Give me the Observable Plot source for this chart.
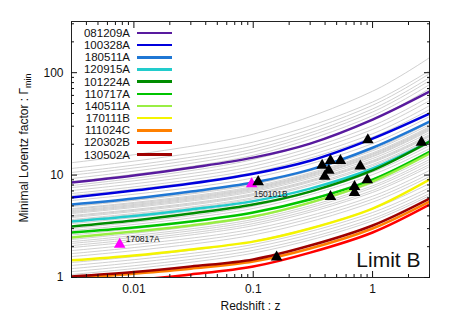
<!DOCTYPE html>
<html><head><meta charset="utf-8">
<script src="https://cdn.jsdelivr.net/npm/d3@7"></script>
<script src="https://cdn.jsdelivr.net/npm/@observablehq/plot@0.6"></script>
<style>
body{margin:0;background:#fff;}
#wrap{position:relative;width:463px;height:327px;font-family:"Liberation Sans",Arial,sans-serif;color:#111;}
#legend{position:absolute;left:70px;top:27px;font-size:11.5px;line-height:12.17px;}
.row{display:flex;align-items:center;height:12.17px;}
.row span{width:60px;text-align:right;}
.row i{display:block;width:35px;height:2.5px;margin-left:7px;}
#ytitle{position:absolute;left:25px;top:148px;transform:translate(-50%,-50%) rotate(-90deg);white-space:nowrap;font-size:12px;}
#ytitle sub{font-size:9px;}
</style></head>
<body><div id="wrap"><div id="chart"></div><div id="legend"></div>
<div id="ytitle">Minimal Lorentz factor : Γ<sub>min</sub></div></div>
<script>
// ---- data ----
const grbNames = ["081209A","100328A","180511A","120915A","101224A","110717A","140511A","170111B","111024C","120302B","130502A"];
const grbColors = ["#581a9e","#0000dd","#1f77d4","#22cccc","#008c00","#00c400","#99ee44","#f4f400","#ff8000","#ff0000","#9e0000"];
const zColored = [0.003, 0.01, 0.03, 0.1, 0.3, 1, 3];
const gammaColored = [
  [8.45, 9.89, 11.8, 14.8, 20.3, 34.8, 65.3],
  [6.03, 7.06, 8.26, 10.3, 13.8, 22.7, 39.8],
  [5.15, 5.9, 6.9, 8.45, 11.3, 18.5, 33.3],
  [3.52, 3.98, 4.61, 5.57, 7.38, 11.6, 21.2],
  [3.15, 3.6, 4.21, 5.15, 6.9, 11.1, 21.2],
  [2.75, 3.07, 3.52, 4.31, 5.77, 9.04, 16.9],
  [2.46, 2.81, 3.22, 3.94, 5.39, 8.65, 16.2],
  [1.47, 1.64, 1.88, 2.24, 3.01, 4.71, 9.04],
  [0.98, 1.09, 1.22, 1.43, 1.92, 3.01, 5.52],
  [0.855, 0.945, 1.07, 1.28, 1.75, 2.75, 5.15],
  [1.02, 1.13, 1.28, 1.5, 2.05, 3.22, 5.9]
];
const zGray = [0.003, 0.1, 1, 3];
const gammaGray = [
  [13.2, 25.1, 65.9, 140], [11.6, 21.0, 51.7, 104.6], [10.6, 19.3, 48.0, 97.8],
  [10.0, 17.9, 44.2, 89.4], [9.25, 16.8, 41.3, 83.5], [8.64, 15.6, 38.0, 76.4],
  [7.90, 14.2, 34.8, 69.8], [7.55, 13.1, 30.3, 58.3], [7.06, 12.2, 27.9, 53.3],
  [6.6, 11.3, 25.3, 47.6], [6.31, 10.6, 23.5, 43.5], [5.64, 9.39, 20.3, 37.2],
  [5.0, 8.3, 17.8, 32.5], [4.93, 8.09, 17.3, 31.1], [4.71, 7.74, 16.5, 29.7],
  [4.62, 7.55, 16.1, 29.0], [4.5, 7.4, 15.8, 28.4], [4.4, 7.25, 15.4, 27.8],
  [4.31, 7.08, 15.1, 27.2], [4.21, 6.89, 14.5, 26.0], [4.03, 6.59, 13.9, 24.8],
  [3.95, 6.45, 13.6, 24.2], [3.85, 6.3, 13.3, 23.7], [3.68, 6.02, 12.7, 22.7],
  [3.6, 5.85, 12.3, 22.0], [3.36, 5.47, 11.4, 20.3], [3.01, 4.97, 10.7, 19.4],
  [2.87, 4.72, 10.1, 18.1], [2.6, 4.3, 9.2, 16.8], [2.35, 3.88, 8.34, 15.1],
  [2.24, 3.69, 7.86, 14.2], [2.15, 3.53, 7.52, 13.5], [2.05, 3.36, 7.08, 12.7],
  [1.96, 3.21, 6.77, 12.1], [1.83, 2.98, 6.22, 11.1], [1.71, 2.79, 5.82, 10.3],
  [1.6, 2.6, 5.44, 9.67], [1.4, 2.26, 4.68, 8.26], [1.31, 2.1, 4.31, 7.55],
  [1.22, 1.97, 4.03, 7.06], [1.14, 1.84, 3.76, 6.6], [1.07, 1.73, 3.57, 6.31]
];
const obsZ =     [0.913, 2.57, 0.378, 0.444, 0.538, 0.789, 0.43, 0.397, 0.903, 0.706, 0.706, 0.444, 0.157, 0.11];
const obsGamma = [22.0, 20.9, 12.4, 13.8, 13.8, 12.2, 11.1, 9.7, 8.98, 7.7, 6.75, 6.17, 1.58, 8.6];
const pinkNames = ["150101B", "170817A"];
const pinkZ = [0.097, 0.0076];
const pinkGamma = [8.2, 2.1];
const xMajor = [0.01, 0.1, 1];
const xMinor = [0.003,0.004,0.005,0.006,0.007,0.008,0.009,0.02,0.03,0.04,0.05,0.06,0.07,0.08,0.09,0.2,0.3,0.4,0.5,0.6,0.7,0.8,0.9,2,3];
const yMajor = [1, 10, 100];
const yMinor = [2,3,4,5,6,7,8,9,20,30,40,50,60,70,80,90,200,300];

// ---- tables ----
const grayRows = gammaGray.flatMap((g, i) => zGray.map((z, j) => ({id: i, z, g: g[j]})));
const colorRows = grbNames.map((n, i) => zColored.map((z, j) => ({name: n, z, g: gammaColored[i][j]})));
const obs = obsZ.map((z, i) => ({z, g: obsGamma[i]}));
const pink = pinkNames.map((n, i) => ({name: n, z: pinkZ[i], g: pinkGamma[i]}));
const none = () => "";

const chart = Plot.plot({
  width: 463, height: 327,
  marginLeft: 71, marginRight: 34, marginTop: 21, marginBottom: 50,
  x: {type: "log", domain: [0.003, 3]},
  y: {type: "log", domain: [1, 316]},
  style: {fontFamily: "Liberation Sans, Arial, sans-serif", fontSize: "12px", color: "#111", background: "white"},
  marks: [
    Plot.line(grayRows, {x: "z", y: "g", z: "id", stroke: "#c4c4c4", strokeWidth: 0.8, curve: "catmull-rom", clip: true}),
    ...colorRows.map((rows, i) => Plot.line(rows, {x: "z", y: "g", stroke: grbColors[i], strokeWidth: 2.5, curve: "catmull-rom", clip: true})),
    Plot.dot(pink, {x: "z", y: "g", symbol: "triangle", r: 4.3, fill: "#ff00ff"}),
    Plot.dot(obs, {x: "z", y: "g", symbol: "triangle", r: 4.3, fill: "black"}),
    Plot.text([pink[0]], {x: "z", y: "g", text: "name", dx: 2, dy: 10, textAnchor: "start", fontSize: 8.5, fill: "#222"}),
    Plot.text([pink[1]], {x: "z", y: "g", text: "name", dx: 6, dy: -5, textAnchor: "start", fontSize: 8.5, fill: "#222"}),
    Plot.text(["Limit B"], {frameAnchor: "bottom-right", dx: -9, dy: -11, textAnchor: "end", lineAnchor: "bottom", fontSize: 21, fill: "#111"}),
    Plot.text(["Redshift : z"], {frameAnchor: "bottom", dy: 32, fontSize: 12, fill: "#111"}),
    Plot.frame({stroke: "#222"}),
    Plot.axisX(xMajor, {anchor: "bottom", tickSize: 0, tickPadding: 7, tickFormat: d => String(d), label: null}),
    Plot.axisX(xMajor, {anchor: "bottom", tickSize: -6, tickFormat: none, label: null}),
    Plot.axisX(xMinor, {anchor: "bottom", tickSize: -3, tickFormat: none, label: null}),
    Plot.axisX(xMajor, {anchor: "top", tickSize: -6, tickFormat: none, label: null}),
    Plot.axisX(xMinor, {anchor: "top", tickSize: -3, tickFormat: none, label: null}),
    Plot.axisY(yMajor, {anchor: "left", tickSize: 0, tickPadding: 8, tickFormat: d => String(d), label: null}),
    Plot.axisY(yMajor, {anchor: "left", tickSize: -6, tickFormat: none, label: null}),
    Plot.axisY(yMinor, {anchor: "left", tickSize: -3, tickFormat: none, label: null}),
    Plot.axisY(yMajor, {anchor: "right", tickSize: -6, tickFormat: none, label: null}),
    Plot.axisY(yMinor, {anchor: "right", tickSize: -3, tickFormat: none, label: null})
  ]
});
document.getElementById("chart").appendChild(chart);

const legend = document.getElementById("legend");
grbNames.forEach((n, i) => {
  const row = document.createElement("div");
  row.className = "row";
  const s = document.createElement("span"); s.textContent = n;
  const l = document.createElement("i"); l.style.background = grbColors[i];
  row.appendChild(s); row.appendChild(l);
  legend.appendChild(row);
});
</script></body></html>
